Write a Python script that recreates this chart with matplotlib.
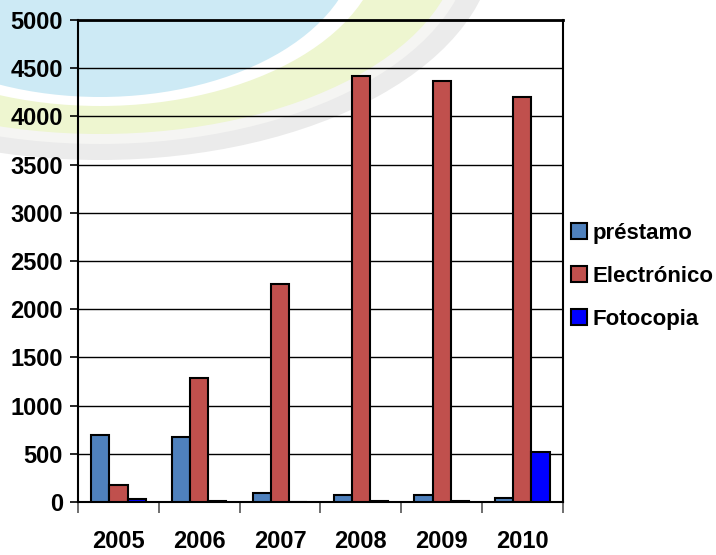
import matplotlib
matplotlib.use("Agg")
import numpy as np
from matplotlib import pyplot as plt
from matplotlib.patches import Ellipse

years = ["2005", "2006", "2007", "2008", "2009", "2010"]
prestamo = [695, 670, 95, 75, 75, 45]
electronico = [175, 1290, 2260, 4420, 4370, 4200]
fotocopia = [35, 15, 0, 8, 10, 520]

series_names = ["préstamo", "Electrónico", "Fotocopia"]
colors = ["#4F81BD", "#C0504D", "#0000FF"]

plt.rcParams['font.family'] = ['Liberation Sans', 'DejaVu Sans']
plt.rcParams['font.weight'] = 'bold'

fig = plt.figure(figsize=(7.16, 5.55), dpi=100)

# decorative background swooshes (figure pixel coords, origin top-left)
H = 555
def swoosh(cx, cy, rx, ry, color):
    e = Ellipse((cx, H - cy), 2 * rx, 2 * ry, facecolor=color, edgecolor='none',
                transform=None, zorder=-10)
    fig.patches.append(e)

swoosh(100, -60, 395, 220, "#ebebeb")
swoosh(100, -60, 372, 204, "#f5f5f3")
swoosh(100, -60, 360, 194, "#eef6d0")
swoosh(100, -60, 282, 166, "#ffffff")
swoosh(100, -60, 258, 157, "#cdeaf5")

ax = fig.add_axes([0.109, 0.0955, 0.677, 0.8685])
ax.set_facecolor('none')

x = np.arange(len(years))
w = 0.225
for i, (vals, name, c) in enumerate(zip([prestamo, electronico, fotocopia], series_names, colors)):
    ax.bar(x + (i - 1) * w, vals, w, color=c, edgecolor='black', linewidth=1.5,
           label=name, zorder=3)

ax.set_xlim(-0.5, 5.5)
ax.set_ylim(0, 5000)
ax.set_yticks(np.arange(0, 5001, 500))
ax.yaxis.grid(True, color='black', linewidth=1.0, zorder=0)
ax.set_axisbelow(True)

ax.set_xticks(x)
ax.set_xticklabels(years, fontsize=17, fontweight='bold')
ax.set_xticks(np.arange(-0.5, 6, 1), minor=True)
ax.tick_params(axis='x', which='major', length=0, pad=20)
ax.tick_params(axis='x', which='minor', length=8, width=1.2, color='#555555')
ax.tick_params(axis='y', length=6, width=1.2, labelsize=17, pad=5)
for lab in ax.get_yticklabels():
    lab.set_fontweight('bold')

for s in ax.spines.values():
    s.set_linewidth(1.5)
    s.set_color('black')
ax.spines['top'].set_linewidth(2.0)

handles, labels = ax.get_legend_handles_labels()
fig.legend(handles, labels, loc='upper left', bbox_to_anchor=(0.7975, 0.599),
           frameon=False, prop={'size': 16, 'weight': 'bold'}, borderpad=0,
           borderaxespad=0, handlelength=0.72, handleheight=0.72,
           handletextpad=0.25, labelspacing=1.0)

fig.savefig("out.png", dpi=100)
